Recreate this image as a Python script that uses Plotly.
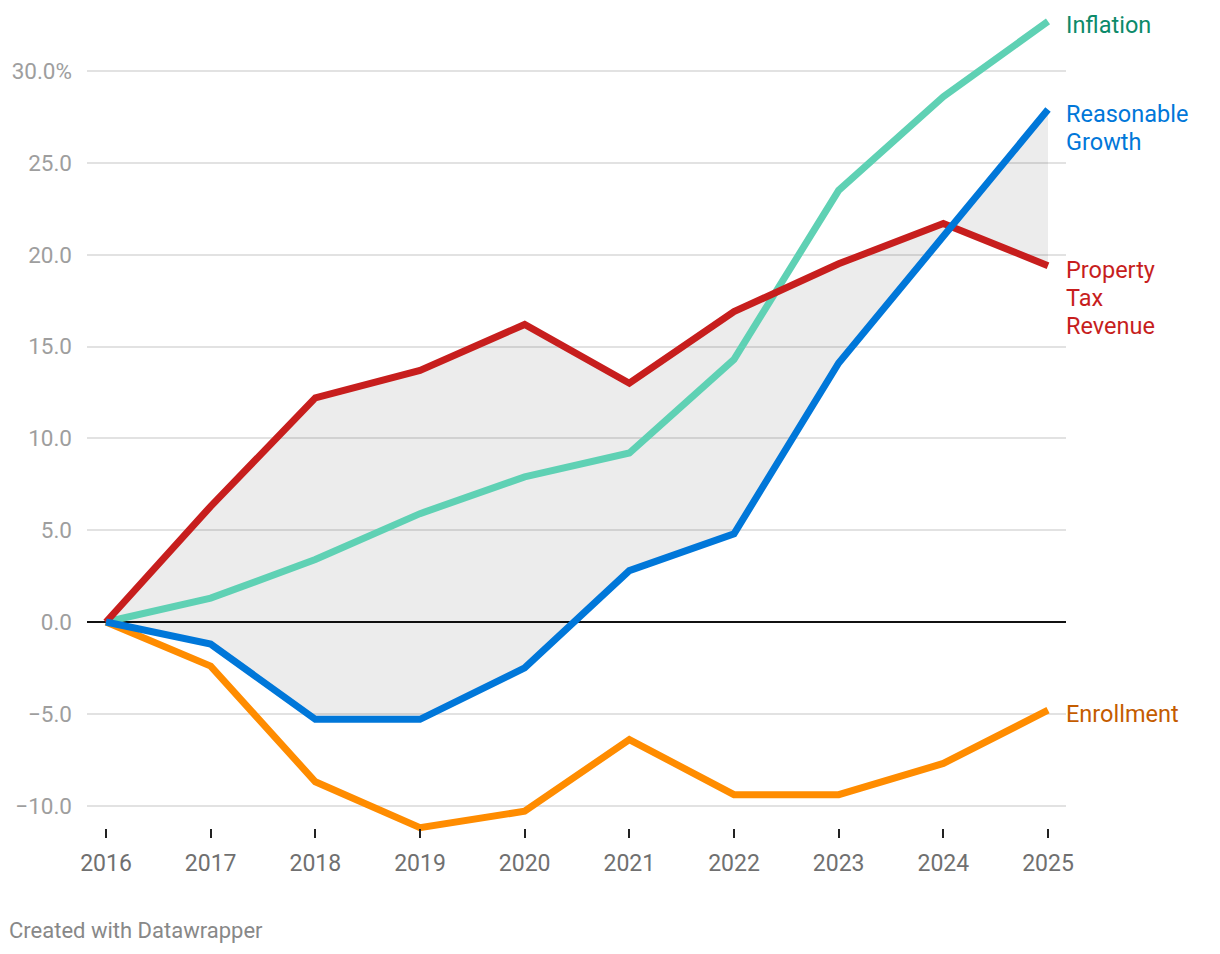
import plotly.graph_objects as go

years = [2016, 2017, 2018, 2019, 2020, 2021, 2022, 2023, 2024, 2025]
inflation = [0, 1.3, 3.4, 5.9, 7.9, 9.2, 14.3, 23.5, 28.6, 32.7]
reasonable_growth = [0, -1.2, -5.3, -5.3, -2.5, 2.8, 4.8, 14.1, 21.0, 27.9]
property_tax = [0, 6.3, 12.2, 13.7, 16.2, 13.0, 16.9, 19.5, 21.7, 19.4]
enrollment = [0, -2.4, -8.7, -11.2, -10.3, -6.4, -9.4, -9.4, -7.7, -4.8]

y_tickvals = [-10, -5, 0, 5, 10, 15, 20, 25, 30]
y_ticktext = ["−10.0", "−5.0", "0.0", "5.0", "10.0", "15.0", "20.0", "25.0", "30.0%"]
x_ticktext = [str(y) for y in years]

FONT = "Roboto"
fig = go.Figure()

# shaded range between property tax revenue and reasonable growth
fig.add_trace(go.Scatter(x=years, y=reasonable_growth, mode="lines",
                         line=dict(width=0), hoverinfo="skip", showlegend=False))
fig.add_trace(go.Scatter(x=years, y=property_tax, mode="lines", fill="tonexty",
                         fillcolor="rgba(0,0,0,0.075)", line=dict(width=0),
                         hoverinfo="skip", showlegend=False))

series = [
    ("Enrollment", enrollment, "#ff8c00", "#c45c00", ["Enrollment"]),
    ("Inflation", inflation, "#5fd1b4", "#0c8a6a", ["Inflation"]),
    ("Property Tax Revenue", property_tax, "#c71e1d", "#c71e1d", ["Property", "Tax", "Revenue"]),
    ("Reasonable Growth", reasonable_growth, "#0077d9", "#0077d9", ["Reasonable", "Growth"]),
]
for name, vals, col, lcol, label_lines in series:
    fig.add_trace(go.Scatter(x=years, y=vals, mode="lines", name=name,
                             line=dict(color=col, width=7, shape="linear"),
                             showlegend=False))
    for i, line in enumerate(label_lines):
        fig.add_annotation(x=years[-1], y=vals[-1], text=line, showarrow=False,
                           xanchor="left", yanchor="middle", align="left",
                           xshift=16, yshift=-4 - 28 * i,
                           font=dict(family=FONT, size=23.5, color=lcol))

fig.add_annotation(xref="paper", yref="paper", x=-80/979, y=-85/835,
                   xanchor="left", yanchor="middle", showarrow=False,
                   text="Created with Datawrapper",
                   font=dict(family=FONT, size=22, color="#888888"))

fig.update_layout(
    width=1220, height=954,
    margin=dict(l=87, r=154, t=10, b=109),
    paper_bgcolor="white", plot_bgcolor="white",
    font=dict(family=FONT),
    xaxis=dict(range=[2016 - 19 / 104.67, 2025 + 18 / 104.67],
               tickvals=years, ticktext=x_ticktext,
               showgrid=False, zeroline=False, showline=False,
               ticks="outside", ticklen=9, tickwidth=2, tickcolor="#222222",
               ticklabelstandoff=5,
               tickfont=dict(family=FONT, size=23, color="#707070"),
               anchor="free", position=17 / 835),
    yaxis=dict(range=[-12.14, 33.32], tickvals=y_tickvals, ticktext=y_ticktext,
               showgrid=True, gridcolor="#e2e2e2", gridwidth=1.5,
               zeroline=True, zerolinecolor="#111111", zerolinewidth=2,
               showline=False, ticks="", ticklabelstandoff=14,
               tickfont=dict(family=FONT, size=22.5, color="#9e9e9e")),
)

fig.write_html("out.html")
